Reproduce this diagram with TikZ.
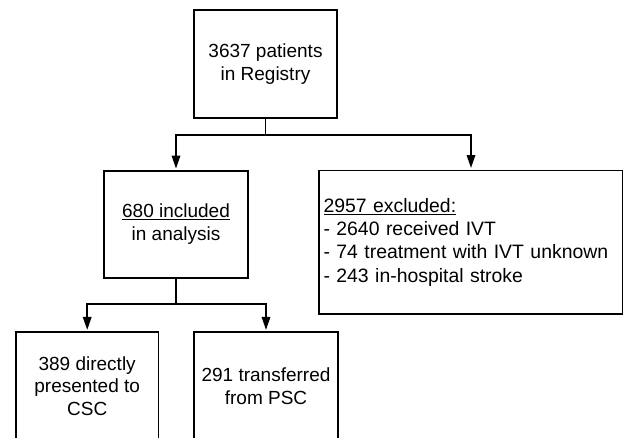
\documentclass[tikz,border=0pt]{standalone}
\usepackage{fontspec}
\setmainfont{Liberation Sans}
\usetikzlibrary{arrows.meta}
\tikzset{
  box/.style={draw=black, line width=1.7pt, rectangle, inner sep=0pt,
    font=\fontsize{19}{22.5}\selectfont, align=center},
  arr/.style={line width=1.7pt, -{Triangle[length=13pt,width=8.5pt]}, shorten >=1.5pt},
  lnk/.style={line width=1.7pt}
}
\begin{document}
\begin{tikzpicture}[x=1pt,y=1pt]
\clip (0,0) rectangle (623,-437);
\useasboundingbox (0,0) rectangle (623,-437);
\node[box, minimum width=143.6pt, minimum height=107.7pt] (top) at (265.5,-63.9) {3637 patients\\in Registry};
\node[box, minimum width=143.4pt, minimum height=106.7pt] (incl) at (176,-224.3) {\underline{680 included}\\in analysis};
\node[box, minimum width=303.4pt, minimum height=143.7pt, align=left, text width=295pt, inner xsep=4pt, font=\fontsize{19.4}{23.3}\selectfont] (excl) at (471,-242.2) {\underline{2957 excluded:}\\- 2640 received IVT\\- 74 treatment with IVT unknown\\- 243 in-hospital stroke};
\node[box, minimum width=142.3pt, minimum height=107.5pt] (csc) at (87.2,-386) {389 directly\\presented to\\CSC};
\node[box, minimum width=144pt, minimum height=107.5pt] (psc) at (266,-386) {291 transferred\\from PSC};
\coordinate (b1) at (265.5,-135);
\coordinate (b2) at (176,-304.3);
\draw[lnk] (top.south) -- (b1);
\draw[arr] (b1) -| (incl.north);
\draw[arr] (b1) -| (excl.north);
\draw[lnk] (incl.south) -- (b2);
\draw[arr] (b2) -| (csc.north);
\draw[arr] (b2) -| (psc.north);
\end{tikzpicture}
\end{document}
